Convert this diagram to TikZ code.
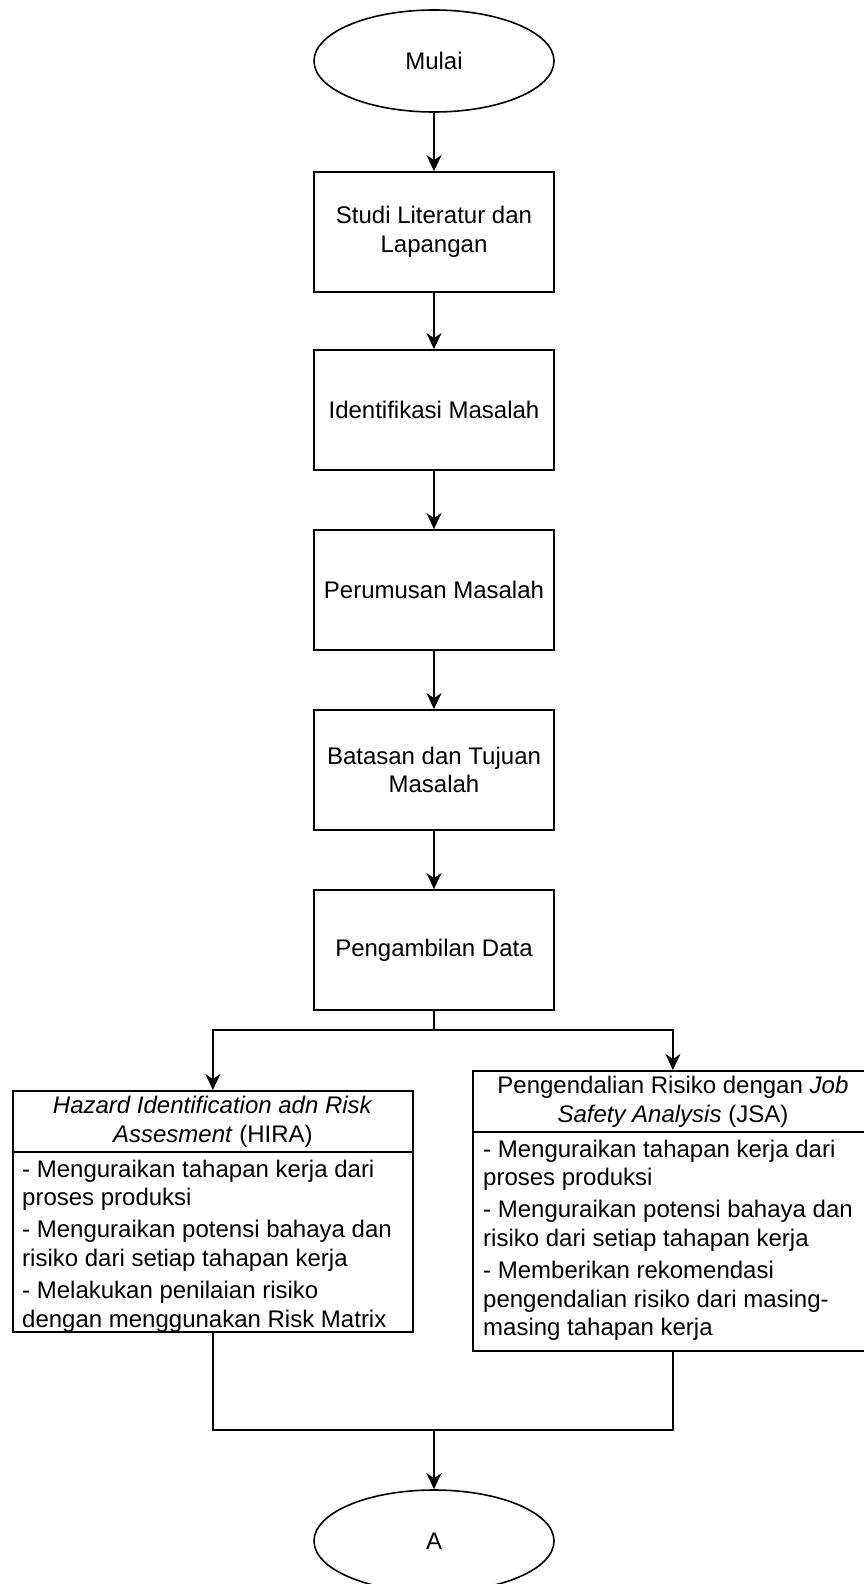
\documentclass[tikz,border=0pt]{standalone}
\usepackage{fontspec}
\setmainfont{Liberation Sans}
\usetikzlibrary{shapes.geometric,arrows.meta}
\begin{document}
\begin{tikzpicture}[x=1pt,y=-1pt,
  every node/.style={font=\fontsize{24}{28.8}\selectfont, text=black},
  proc/.style={draw, line width=1.8pt, minimum width=240pt, minimum height=120pt, inner sep=0pt, align=center},
  term/.style={draw, ellipse, line width=1.6pt, minimum width=240pt, minimum height=102pt, inner sep=0pt},
  conn/.style={line width=1.8pt},
  arr/.style={conn, -{Stealth[length=16pt,width=15pt,inset=5pt]}},
  frame/.style={draw, line width=1.8pt, inner sep=0pt, anchor=north west},
  bodytext/.style={anchor=base west, inner sep=0pt},
]
\useasboundingbox (0,0) rectangle (863,1584);

\node[term] (start) at (434,61) {Mulai};
\node[proc] (studi) at (434,232) {Studi Literatur dan\\Lapangan};
\node[proc] (ident) at (434,410) {Identifikasi Masalah};
\node[proc] (rumus) at (434,590) {Perumusan Masalah};
\node[proc] (batas) at (434,770) {Batasan dan Tujuan\\Masalah};
\node[proc] (ambil) at (434,950) {Pengambilan Data};

% HIRA
\node[frame, minimum width=400pt, minimum height=61pt] (hiraH) at (12,1090) {};
\node[frame, minimum width=400pt, minimum height=180pt] (hiraB) at (12,1151) {};
\node[align=center, inner sep=0pt] (hiraT) at (hiraH.center) {\textit{Hazard Identification adn Risk}\\\textit{Assesment} (HIRA)};
\node[bodytext] (hiraL) at (22,1177) {\parbox[t]{388pt}{\raggedright
- Menguraikan tahapan kerja dari\\
proses produksi\\[3pt]
- Menguraikan potensi bahaya dan\\
risiko dari setiap tahapan kerja\\[3pt]
- Melakukan penilaian risiko\\
dengan menggunakan Risk Matrix}};

% JSA
\node[frame, minimum width=400pt, minimum height=61pt] (jsaH) at (472,1070) {};
\node[frame, minimum width=400pt, minimum height=219pt] (jsaB) at (472,1131) {};
\node[align=center, inner sep=0pt] (jsaT) at (jsaH.center) {Pengendalian Risiko dengan \textit{Job}\\\textit{Safety Analysis} (JSA)};
\node[bodytext] (jsaL) at (483,1157) {\parbox[t]{388pt}{\raggedright
- Menguraikan tahapan kerja dari\\
proses produksi\\[3pt]
- Menguraikan potensi bahaya dan\\
risiko dari setiap tahapan kerja\\[3pt]
- Memberikan rekomendasi\\
pengendalian risiko dari masing-\\
masing tahapan kerja}};

\node[term] (endA) at (434,1541) {A};

% connectors
\draw[arr] (start) -- (studi);
\draw[arr] (studi) -- (ident);
\draw[arr] (ident) -- (rumus);
\draw[arr] (rumus) -- (batas);
\draw[arr] (batas) -- (ambil);

\coordinate (split) at (434,1030);
\draw[conn] (ambil.south) -- (split);
\draw[arr] (split) -| (hiraH.north);
\draw[arr] (split) -| (jsaH.north);

\coordinate (join) at (434,1430);
\draw[conn] (hiraB.south) |- (join);
\draw[conn] (jsaB.south) |- (join);
\draw[arr] (join) -- (endA.north);
\end{tikzpicture}
\end{document}
